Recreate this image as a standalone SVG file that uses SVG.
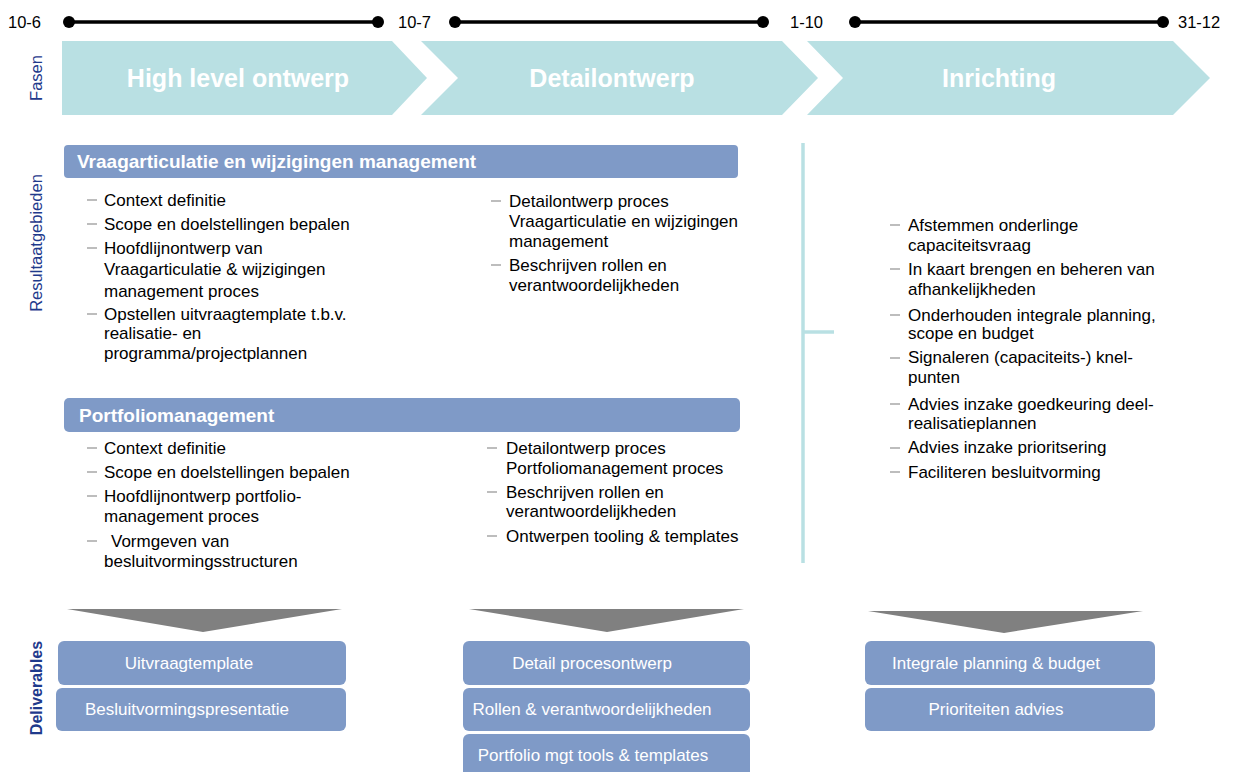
<svg xmlns="http://www.w3.org/2000/svg" width="1233" height="772" viewBox="0 0 1233 772">
<style>
text{font-family:"Liberation Sans",Arial,sans-serif}
.date{font-size:16.5px;fill:#000}
.phase{fill:#b9e0e3}
.ptxt{font-size:25px;font-weight:bold;fill:#fff;text-anchor:middle}
.side{font-size:16.5px;fill:#1f3a8c;text-anchor:middle}
.bar{fill:#7f9ac7}
.htxt{font-size:19px;font-weight:bold;fill:#fff}
.b{font-size:17px;fill:#000}
.dash{stroke:#999;stroke-width:1.3}
.box{fill:#7f9ac7}
.dtxt{font-size:17px;fill:#fff;text-anchor:middle}
.tri{fill:#808080}
.tl{stroke:#000;stroke-width:3.5}
</style>
<defs>
<marker id="dot" viewBox="0 0 10 10" refX="5" refY="5" markerWidth="12" markerHeight="12" markerUnits="userSpaceOnUse"><circle cx="5" cy="5" r="5" fill="#000"/></marker>
</defs>

<g id="timeline">
<text class="date" x="8" y="28">10-6</text>
<text class="date" x="398" y="28">10-7</text>
<text class="date" x="790" y="28">1-10</text>
<text class="date" x="1178" y="28">31-12</text>
</g>

<g id="connectors">
<line class="tl" x1="69" y1="22" x2="378" y2="22" marker-start="url(#dot)" marker-end="url(#dot)"/>
<line class="tl" x1="455" y1="22" x2="763" y2="22" marker-start="url(#dot)" marker-end="url(#dot)"/>
<line class="tl" x1="855" y1="22" x2="1163" y2="22" marker-start="url(#dot)" marker-end="url(#dot)"/>
<line x1="803" y1="143" x2="803" y2="563" stroke="#b9e0e3" stroke-width="3.5"/>
<line x1="803" y1="332" x2="834" y2="332" stroke="#b9e0e3" stroke-width="3.5"/>
</g>

<g id="labels">
<text class="side" transform="translate(36,78) rotate(-90)" y="6">Fasen</text>
<text class="side" transform="translate(36,243) rotate(-90)" y="6">Resultaatgebieden</text>
<text class="side" transform="translate(36,688) rotate(-90)" y="6" font-weight="bold" style="font-size:16px">Deliverables</text>
</g>

<g id="phase-high-level">
<path class="phase" d="M62,41 H392 L427,78 L392,115 H62 Z"/>
<text class="ptxt" x="238" y="87">High level ontwerp</text>
</g>
<g id="phase-detail">
<path class="phase" d="M421,41 H782 L818,78 L782,115 H421 L458,78 Z"/>
<text class="ptxt" x="612" y="87">Detailontwerp</text>
</g>
<g id="phase-inrichting">
<path class="phase" d="M807,41 H1173 L1210,78 L1173,115 H807 L843,78 Z"/>
<text class="ptxt" x="999" y="87">Inrichting</text>
</g>

<g id="vraag">
<rect class="bar" x="64" y="145" width="674" height="33" rx="4"/>
<text class="htxt" x="77" y="168">Vraagarticulatie en wijzigingen management</text>
<g class="dashes">
<line class="dash" x1="87" y1="200" x2="97" y2="200"/>
<line class="dash" x1="87" y1="224" x2="97" y2="224"/>
<line class="dash" x1="87" y1="248" x2="97" y2="248"/>
<line class="dash" x1="87" y1="314" x2="97" y2="314"/>
<line class="dash" x1="491" y1="201" x2="501" y2="201"/>
<line class="dash" x1="491" y1="265" x2="501" y2="265"/>
</g>
<text class="b" x="104" y="206">Context definitie</text>
<text class="b" x="104" y="230">Scope en doelstellingen bepalen</text>
<text class="b" x="104" y="254">Hoofdlijnontwerp van</text>
<text class="b" x="104" y="275">Vraagarticulatie &amp; wijzigingen</text>
<text class="b" x="104" y="297">management proces</text>
<text class="b" x="104" y="320">Opstellen uitvraagtemplate t.b.v.</text>
<text class="b" x="104" y="339">realisatie- en</text>
<text class="b" x="104" y="359">programma/projectplannen</text>
<text class="b" x="509" y="207">Detailontwerp proces</text>
<text class="b" x="509" y="227">Vraagarticulatie en wijzigingen</text>
<text class="b" x="509" y="247">management</text>
<text class="b" x="509" y="271">Beschrijven rollen en</text>
<text class="b" x="509" y="291">verantwoordelijkheden</text>
</g>

<g id="portfolio">
<rect class="bar" x="64" y="398" width="676" height="34" rx="5"/>
<text class="htxt" x="79" y="422">Portfoliomanagement</text>
<g class="dashes">
<line class="dash" x1="87" y1="448" x2="97" y2="448"/>
<line class="dash" x1="87" y1="472" x2="97" y2="472"/>
<line class="dash" x1="87" y1="496" x2="97" y2="496"/>
<line class="dash" x1="87" y1="541" x2="97" y2="541"/>
<line class="dash" x1="487" y1="448" x2="497" y2="448"/>
<line class="dash" x1="487" y1="492" x2="497" y2="492"/>
<line class="dash" x1="487" y1="536" x2="497" y2="536"/>
</g>
<text class="b" x="104" y="454">Context definitie</text>
<text class="b" x="104" y="478">Scope en doelstellingen bepalen</text>
<text class="b" x="104" y="502">Hoofdlijnontwerp portfolio-</text>
<text class="b" x="104" y="522">management proces</text>
<text class="b" x="111" y="547">Vormgeven van</text>
<text class="b" x="104" y="567">besluitvormingsstructuren</text>
<text class="b" x="506" y="454">Detailontwerp proces</text>
<text class="b" x="506" y="474">Portfoliomanagement proces</text>
<text class="b" x="506" y="498">Beschrijven rollen en</text>
<text class="b" x="506" y="517">verantwoordelijkheden</text>
<text class="b" x="506" y="542">Ontwerpen tooling &amp; templates</text>
</g>

<g id="inrichting-items">
<g class="dashes">
<line class="dash" x1="890" y1="225" x2="900" y2="225"/>
<line class="dash" x1="890" y1="269" x2="900" y2="269"/>
<line class="dash" x1="890" y1="315" x2="900" y2="315"/>
<line class="dash" x1="890" y1="358" x2="900" y2="358"/>
<line class="dash" x1="890" y1="404" x2="900" y2="404"/>
<line class="dash" x1="890" y1="448" x2="900" y2="448"/>
<line class="dash" x1="890" y1="472" x2="900" y2="472"/>
</g>
<text class="b" x="908" y="231">Afstemmen onderlinge</text>
<text class="b" x="908" y="251">capaciteitsvraag</text>
<text class="b" x="908" y="275">In kaart brengen en beheren van</text>
<text class="b" x="908" y="295">afhankelijkheden</text>
<text class="b" x="908" y="321">Onderhouden integrale planning,</text>
<text class="b" x="908" y="339">scope en budget</text>
<text class="b" x="908" y="363">Signaleren (capaciteits-) knel-</text>
<text class="b" x="908" y="383">punten</text>
<text class="b" x="908" y="410">Advies inzake goedkeuring deel-</text>
<text class="b" x="908" y="429">realisatieplannen</text>
<text class="b" x="908" y="453">Advies inzake prioritsering</text>
<text class="b" x="908" y="478">Faciliteren besluitvorming</text>
</g>

<g id="deliverables-1">
<path class="tri" d="M67,609 L342,609 L203,632 Z"/>
<rect class="box" x="58" y="641" width="288" height="44" rx="6"/>
<text class="dtxt" x="189" y="669">Uitvraagtemplate</text>
<rect class="box" x="56" y="688" width="290" height="43" rx="6"/>
<text class="dtxt" x="187" y="715">Besluitvormingspresentatie</text>
</g>
<g id="deliverables-2">
<path class="tri" d="M469,609 L744,609 L607,632 Z"/>
<rect class="box" x="463" y="641" width="287" height="44" rx="6"/>
<text class="dtxt" x="592" y="669">Detail procesontwerp</text>
<rect class="box" x="463" y="688" width="287" height="43" rx="6"/>
<text class="dtxt" x="592" y="715">Rollen &amp; verantwoordelijkheden</text>
<rect class="box" x="463" y="734" width="287" height="44" rx="6"/>
<text class="dtxt" x="593" y="761">Portfolio mgt tools &amp; templates</text>
</g>
<g id="deliverables-3">
<path class="tri" d="M868,611 L1143,611 L1004,633 Z"/>
<rect class="box" x="865" y="641" width="290" height="44" rx="6"/>
<text class="dtxt" x="996" y="669">Integrale planning &amp; budget</text>
<rect class="box" x="865" y="688" width="290" height="43" rx="6"/>
<text class="dtxt" x="996" y="715">Prioriteiten advies</text>
</g>
</svg>
